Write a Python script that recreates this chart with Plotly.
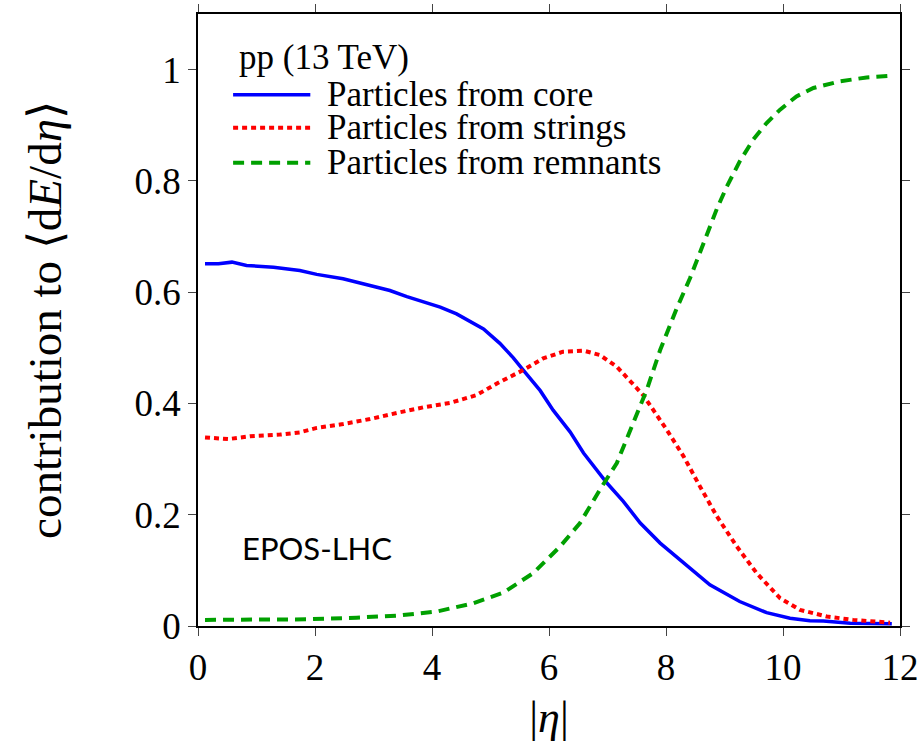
import plotly.graph_objects as go

# Energy-flow decomposition in EPOS-LHC, pp at 13 TeV
eta_core = [0.12, 0.35, 0.58, 0.83, 1.29, 1.74, 2.03, 2.48, 2.94, 3.28, 3.57, 4.14, 4.42,
            4.88, 5.16, 5.39, 5.56, 5.85, 6.07, 6.36, 6.59, 6.99, 7.27, 7.56, 7.90, 8.30,
            8.75, 9.26, 9.72, 10.12, 10.46, 10.69, 11.15, 11.86]
core = [0.651, 0.651, 0.654, 0.648, 0.645, 0.639, 0.632, 0.624, 0.612, 0.603, 0.592, 0.573,
        0.561, 0.534, 0.508, 0.482, 0.460, 0.423, 0.388, 0.349, 0.311, 0.257, 0.224, 0.185,
        0.149, 0.113, 0.074, 0.044, 0.024, 0.014, 0.0096, 0.009, 0.005, 0.004]

eta_strings = [0.12, 0.52, 0.89, 1.40, 1.74, 2.03, 2.48, 2.94, 3.40, 3.85, 4.31, 4.76, 5.11,
               5.56, 5.90, 6.24, 6.59, 6.87, 7.16, 7.61, 8.01, 8.30, 8.58, 8.87, 9.21, 9.55,
               9.95, 10.29, 10.75, 11.20, 11.83]
strings = [0.339, 0.336, 0.341, 0.344, 0.348, 0.356, 0.363, 0.372, 0.383, 0.393, 0.401, 0.415,
           0.436, 0.460, 0.481, 0.493, 0.495, 0.487, 0.466, 0.415, 0.353, 0.305, 0.251, 0.197,
           0.143, 0.095, 0.050, 0.029, 0.017, 0.011, 0.006]

eta_remnants = [0.12, 1.00, 1.86, 2.71, 3.45, 4.08, 4.71, 5.22, 5.56, 5.73, 6.19, 6.53, 6.87,
                7.16, 7.44, 7.67, 7.90, 8.18, 8.41, 8.52, 8.70, 8.87, 9.04, 9.26, 9.49, 9.72,
                9.95, 10.23, 10.52, 10.97, 11.43, 11.86]
remnants = [0.011, 0.011, 0.012, 0.015, 0.019, 0.026, 0.041, 0.060, 0.083, 0.095, 0.143, 0.185,
            0.245, 0.293, 0.365, 0.424, 0.496, 0.570, 0.625, 0.655, 0.705, 0.750, 0.790, 0.835,
            0.874, 0.904, 0.928, 0.952, 0.967, 0.979, 0.986, 0.989]

series_names = ["Particles from core", "Particles from strings", "Particles from remnants"]
legend_heading = "pp (13 TeV)"
model_label = "EPOS-LHC"

SERIF = "Liberation Serif"
BLUE, RED, GREEN = "#0000ff", "#ff0000", "#00a000"
styles = [
    dict(color=BLUE, width=3.5, dash="solid"),
    dict(color=RED, width=4, dash="5px,4px"),
    dict(color=GREEN, width=4, dash="11px,7px"),
]

fig = go.Figure()
for xs, ys, name, st in zip([eta_core, eta_strings, eta_remnants],
                            [core, strings, remnants], series_names, styles):
    fig.add_trace(go.Scatter(x=xs, y=ys, mode="lines", name=name, line=st,
                             showlegend=False))

# hand-drawn key in the upper left, with long line samples
key_rows_y = [0.868, 0.814, 0.757]
for y, name, st in zip(key_rows_y, series_names, styles):
    fig.add_shape(type="line", xref="x domain", yref="y domain",
                  x0=0.050, x1=0.160, y0=y, y1=y, line=st)
    fig.add_annotation(xref="x domain", yref="y domain", x=0.181, y=y,
                       text=name, showarrow=False, xanchor="left", yanchor="middle",
                       font=dict(family=SERIF, size=35, color="black"))
fig.add_annotation(xref="x domain", yref="y domain", x=0.055, y=0.929,
                   text=legend_heading, showarrow=False, xanchor="left", yanchor="middle",
                   font=dict(family=SERIF, size=35, color="black"))
fig.add_annotation(x=0.72, y=0.14, text=model_label, showarrow=False,
                   xanchor="left", yanchor="middle",
                   font=dict(family="Lato", size=31, color="black"))

axis_common = dict(
    showgrid=False, zeroline=False, showline=True, linecolor="black", linewidth=1.5,
    mirror="ticks", ticks="outside", ticklen=8, tickwidth=1, tickcolor="#444",
    tickfont=dict(family=SERIF, size=37, color="black"),
)
fig.update_xaxes(range=[0, 12], tickvals=[0, 2, 4, 6, 8, 10, 12],
                 title=dict(text="|<i>η</i>|", font=dict(family=SERIF, size=44, color="black"),
                            standoff=38),
                 **axis_common)
fig.update_yaxes(range=[0, 1.1], tickvals=[0, 0.2, 0.4, 0.6, 0.8, 1],
                 ticktext=["0", "0.2", "0.4", "0.6", "0.8", "1"],
                 title=dict(text="contribution to ⟨d<i>E</i>/d<i>η</i>⟩",
                            font=dict(family=SERIF, size=47, color="black"), standoff=58),
                 **axis_common)

fig.update_layout(
    width=920, height=742,
    margin=dict(l=198, r=20, t=14, b=116, autoexpand=False),
    paper_bgcolor="white", plot_bgcolor="white",
    font=dict(family=SERIF, color="black"),
)
fig.write_html("out.html")
